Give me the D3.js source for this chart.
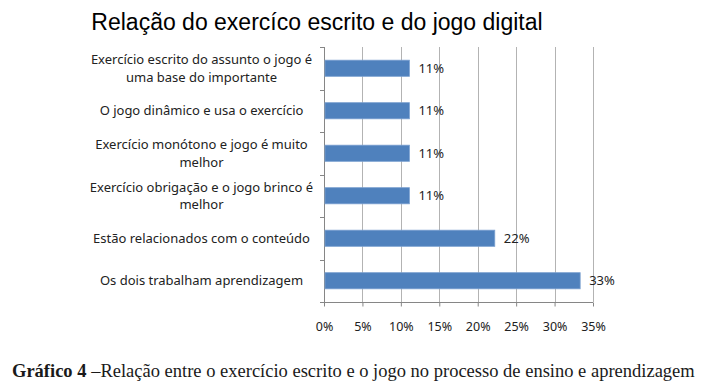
<!doctype html>
<html>
<head>
<meta charset="utf-8">
<title>Gráfico 4</title>
<style>
  body { margin: 0; background: #fff; }
  svg { display: block; }
</style>
</head>
<body>
<div id="here"></div>
<script src="https://d3js.org/d3.v7.min.js"></script>
<script>
// dados (de cima para baixo)
var categorias = [
  "Exercício escrito do assunto o jogo é\numa base do importante",
  "O jogo dinâmico e usa o exercício",
  "Exercício monótono e jogo é muito\nmelhor",
  "Exercício obrigação e o jogo brinco é\nmelhor",
  "Estão relacionados com o conteúdo",
  "Os dois trabalham aprendizagem"
];
var valores = [11.11, 11.11, 11.11, 11.11, 22.22, 33.33];
var rotulos = ["11%", "11%", "11%", "11%", "22%", "33%"];
var ticks = [0, 5, 10, 15, 20, 25, 30, 35];

var w = 706, h = 387;
var mEsq = 324, mDir = 593, mTopo = 47, mBase = 302;
var fonte = "Noto Sans, Open Sans, sans-serif";

var svg = d3.select("#here").append("svg")
  .attr("width", w)
  .attr("height", h);

// título
svg.append("text")
  .attr("x", 317)
  .attr("y", 30)
  .attr("text-anchor", "middle")
  .attr("font-family", "Liberation Sans, Arial, sans-serif")
  .attr("font-size", 23)
  .attr("fill", "#000")
  .text("Relação do exercíco escrito e do jogo digital");

var x = d3.scaleLinear().domain([0, 35]).range([mEsq, mDir]);
var y = d3.scaleBand().domain(categorias).range([mTopo, mBase]).paddingInner(0.62).paddingOuter(0.31);

// grade vertical
svg.selectAll("line.grade")
  .data(ticks.slice(1))
  .enter().append("line")
  .attr("class", "grade")
  .attr("x1", function(d) { return Math.round(x(d)) + 0.5; })
  .attr("x2", function(d) { return Math.round(x(d)) + 0.5; })
  .attr("y1", mTopo)
  .attr("y2", mBase)
  .attr("stroke", "#b3b3b3")
  .attr("stroke-width", 1);

// eixo x
var eixoX = svg.append("g")
  .attr("transform", "translate(0," + (mBase + 0.5) + ")")
  .call(d3.axisBottom(x).tickValues(ticks).tickSize(4).tickFormat(function(d) { return d + "%"; }));
eixoX.select(".domain").attr("stroke", "#868686").attr("d", "M" + (mEsq - 4) + ",0H" + mDir);
eixoX.selectAll(".tick line").attr("stroke", "#868686");
eixoX.selectAll(".tick text")
  .attr("y", 20)
  .attr("font-family", fonte)
  .attr("font-size", 12.5)
  .attr("fill", "#222");

// eixo y (marcas entre categorias)
var limites = d3.range(categorias.length + 1).map(function(i) { return mTopo + i * (mBase - mTopo) / categorias.length; });
svg.append("line")
  .attr("x1", mEsq + 0.5).attr("x2", mEsq + 0.5)
  .attr("y1", mTopo).attr("y2", mBase)
  .attr("stroke", "#868686");
svg.selectAll("line.marca")
  .data(limites)
  .enter().append("line")
  .attr("class", "marca")
  .attr("x1", mEsq - 4).attr("x2", mEsq)
  .attr("y1", function(d) { return Math.round(d) + 0.5; })
  .attr("y2", function(d) { return Math.round(d) + 0.5; })
  .attr("stroke", "#868686");

// barras
svg.selectAll("rect.barra")
  .data(valores)
  .enter().append("rect")
  .attr("class", "barra")
  .attr("x", mEsq + 1)
  .attr("y", function(d, i) { return y(categorias[i]); })
  .attr("width", function(d) { return x(d) - mEsq - 1; })
  .attr("height", y.bandwidth())
  .attr("fill", "#4f81bd")
  .attr("stroke", "#7aa0d0")
  .attr("stroke-width", 0.8);

// rótulos de valor
svg.selectAll("text.valor")
  .data(valores)
  .enter().append("text")
  .attr("class", "valor")
  .attr("x", function(d) { return x(d) + 9; })
  .attr("y", function(d, i) { return y(categorias[i]) + y.bandwidth() / 2; })
  .attr("dy", "0.35em")
  .attr("font-family", fonte)
  .attr("font-size", 13)
  .attr("fill", "#222")
  .text(function(d, i) { return rotulos[i]; });

// rótulos de categoria
var cat = svg.selectAll("text.cat")
  .data(categorias)
  .enter().append("text")
  .attr("class", "cat")
  .attr("text-anchor", "middle")
  .attr("font-family", fonte)
  .attr("font-size", 13)
  .attr("fill", "#222");
cat.each(function(d) {
  var linhas = d.split("\n");
  var yc = y(d) + y.bandwidth() / 2;
  var t = d3.select(this);
  linhas.forEach(function(l, k) {
    t.append("tspan")
      .attr("x", 201.5)
      .attr("y", yc + (k - (linhas.length - 1) / 2) * 17.5)
      .attr("dy", "0.35em")
      .text(l);
  });
});

// legenda do gráfico
var leg = svg.append("text")
  .attr("x", 12)
  .attr("y", 377)
  .attr("font-family", "Liberation Serif, serif")
  .attr("font-size", 15)
  .attr("fill", "#1a1a1a");
leg.append("tspan").attr("font-weight", "bold").text("Gráfico 4 ");
leg.append("tspan").text("–Relação entre o exercício escrito e o jogo no processo de ensino e aprendizagem");
var larg = leg.node().getComputedTextLength();
leg.attr("font-size", 15 * 683 / larg);
</script>
</body>
</html>
